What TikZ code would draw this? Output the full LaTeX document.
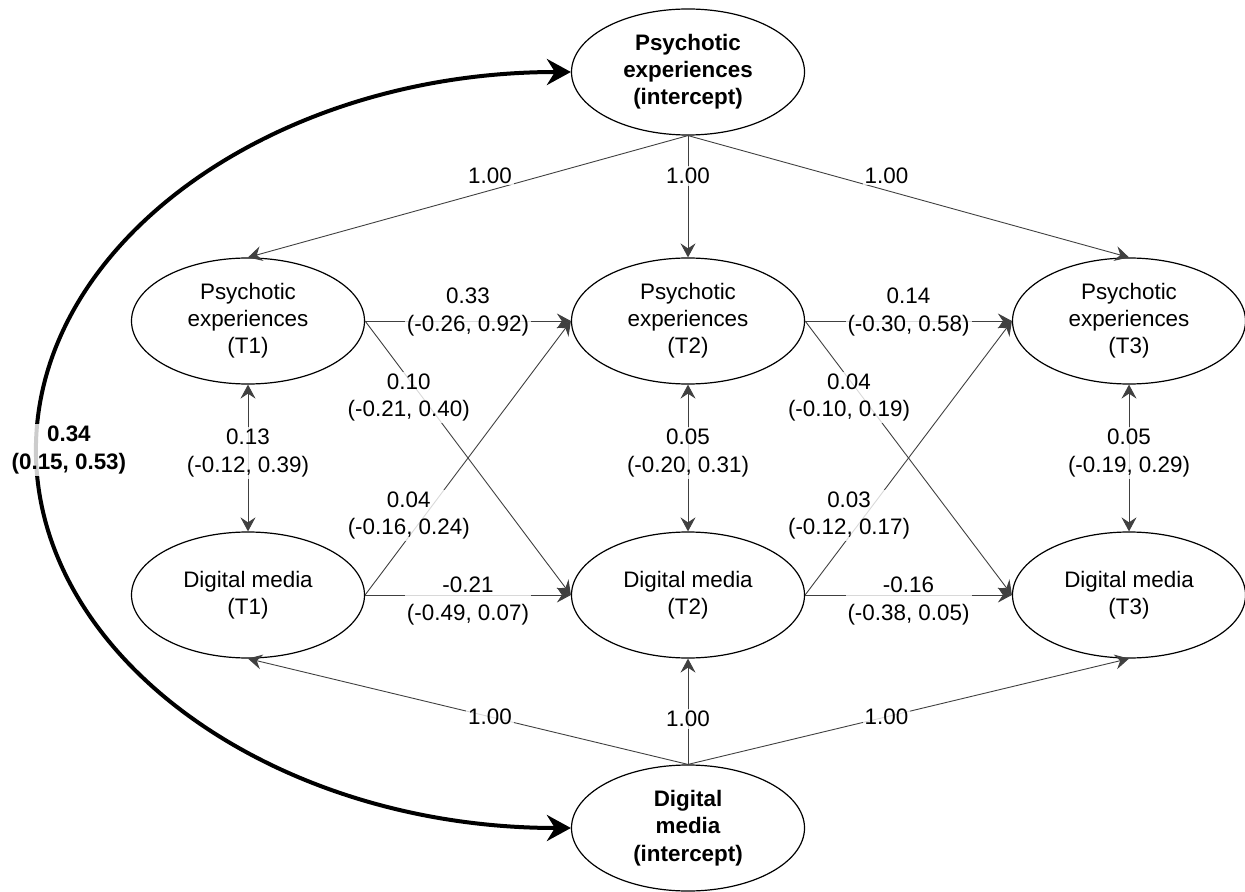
\documentclass[tikz,border=0pt]{standalone}
\usepackage{fontspec}
\setmainfont{Liberation Sans}
\usetikzlibrary{shapes.geometric}
\usetikzlibrary{arrows.meta}

\tikzset{%
latent/.style={draw,ellipse,line width=0.6pt,minimum width=116.5pt,minimum height=63pt,inner sep=0pt,align=center,font=\fontsize{11.2}{13.6}\selectfont},%
intercept/.style={latent,font=\fontsize{11.2}{13.6}\selectfont\bfseries},%
coef/.style={fill=white,fill opacity=0.8,text opacity=1,align=center,inner sep=1pt,font=\fontsize{11.2}{13.6}\selectfont},%
regr/.style={draw=black!75,line width=0.45pt,-{Stealth[length=7pt,width=7.5pt,inset=2.5pt]}},%
covar/.style={draw=black!75,line width=0.45pt,{Stealth[length=7pt,width=7.5pt,inset=2.5pt]}-{Stealth[length=7pt,width=7.5pt,inset=2.5pt]}},%
}

\begin{document}
\begin{tikzpicture}[x=0.5pt,y=-0.5pt]%
\useasboundingbox (0,0) rectangle (1245,892);%
% intercepts
\node[intercept] (pei) at (688,72) {Psychotic\\experiences\\(intercept)};%
\node[intercept] (dmi) at (688,828) {Digital\\media\\(intercept)};%
% waves
\node[latent] (pe1) at (248,321) {Psychotic\\experiences\\(T1)};%
\node[latent] (pe2) at (688,321) {Psychotic\\experiences\\(T2)};%
\node[latent] (pe3) at (1129,321) {Psychotic\\experiences\\(T3)};%
\node[latent] (dm1) at (248,595) {Digital media\\(T1)};%
\node[latent] (dm2) at (688,595) {Digital media\\(T2)};%
\node[latent] (dm3) at (1129,595) {Digital media\\(T3)};%
% loadings
\draw (pei.south) edge[regr] node[coef,pos=0.45,yshift=7.5pt] {1.00} (pe1.north);%
\draw (pei.south) edge[regr] node[coef,pos=0.33] {1.00} (pe2.north);%
\draw (pei.south) edge[regr] node[coef,pos=0.45,yshift=7.5pt] {1.00} (pe3.north);%
\draw (dmi.north) edge[regr] node[coef,pos=0.45] {1.00} (dm1.south);%
\draw (dmi.north) edge[regr] node[coef,pos=0.43] {1.00} (dm2.south);%
\draw (dmi.north) edge[regr] node[coef,pos=0.45] {1.00} (dm3.south);%
% autoregressive paths
\draw (pe1.east) edge[regr] node[coef,yshift=4.5pt] {0.33\\(-0.26, 0.92)} (pe2.west);%
\draw (pe2.east) edge[regr] node[coef,yshift=4.5pt] {0.14\\(-0.30, 0.58)} (pe3.west);%
\draw (dm1.east) edge[regr] node[coef,yshift=-3pt] {-0.21\\(-0.49, 0.07)} (dm2.west);%
\draw (dm2.east) edge[regr] node[coef,yshift=-3pt] {-0.16\\(-0.38, 0.05)} (dm3.west);%
% cross-lagged paths
\draw (pe1.east) edge[regr] node[coef,pos=0.28,xshift=-7pt] {0.10\\(-0.21, 0.40)} (dm2.west);%
\draw (dm1.east) edge[regr] node[coef,pos=0.29,xshift=-8pt] {0.04\\(-0.16, 0.24)} (pe2.west);%
\draw (pe2.east) edge[regr] node[coef,pos=0.28,xshift=-7pt] {0.04\\(-0.10, 0.19)} (dm3.west);%
\draw (dm2.east) edge[regr] node[coef,pos=0.29,xshift=-8pt] {0.03\\(-0.12, 0.17)} (pe3.west);%
% within-wave covariances
\draw (pe1.south) edge[covar] node[coef,yshift=2.5pt] {0.13\\(-0.12, 0.39)} (dm1.north);%
\draw (pe2.south) edge[covar] node[coef,yshift=2.5pt] {0.05\\(-0.20, 0.31)} (dm2.north);%
\draw (pe3.south) edge[covar] node[coef,yshift=2.5pt] {0.05\\(-0.19, 0.29)} (dm3.north);%
% intercept covariance
\draw[line width=2pt,{Stealth[length=12pt,width=13pt,inset=4pt]}-{Stealth[length=12pt,width=13pt,inset=4pt]}] (pei.west) arc[start angle=90,end angle=180,x radius=267.5pt,y radius=189pt] node[coef,xshift=16.5pt,font=\fontsize{11.2}{13.6}\selectfont\bfseries] {0.34\\(0.15, 0.53)} arc[start angle=180,end angle=270,x radius=267.5pt,y radius=189pt];%
\end{tikzpicture}
\end{document}
